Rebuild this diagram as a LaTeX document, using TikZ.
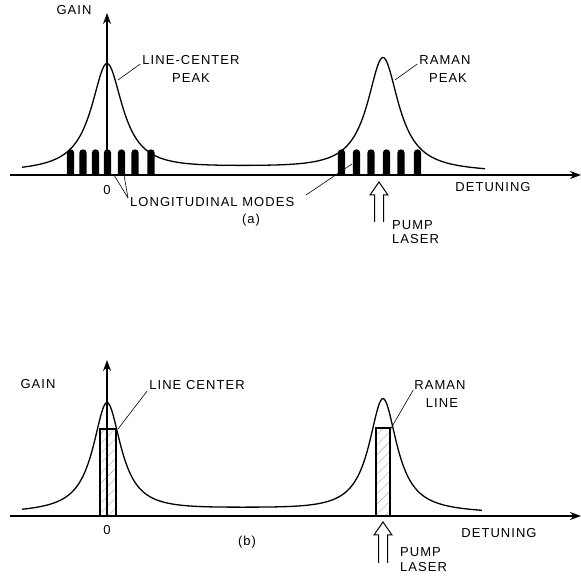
\documentclass[tikz,border=0pt]{standalone}
\usepackage{fontspec}
\setmainfont{Liberation Sans}[LetterSpace=8]
\usetikzlibrary{arrows.meta,patterns.meta}
\begin{document}
\begin{tikzpicture}[x=1pt,y=1pt,
  lbl/.style={inner sep=0pt,font=\fontsize{13}{14}\selectfont},
  axis/.style={line width=1.1pt,-{Stealth[length=11pt,width=8pt]}},
  curve/.style={line width=1.3pt},
  leader/.style={line width=0.6pt},
  pumparrow/.style={line width=1pt},
  hatchbar/.style={line width=1.1pt,pattern={Lines[angle=45,distance=7pt,line width=0.4pt]},pattern color=gray!70}]
\useasboundingbox (0,0) rectangle (581,584);

% ================= panel (a) =================
\coordinate (aL) at (10,409);
\coordinate (aR) at (581,409);
\coordinate (aB) at (107,409);
\coordinate (aT) at (107,571);
% longitudinal modes
\foreach \x in {70.5,83,95.5,107.5,121.5,135,151,341.5,356.5,371,386.5,401,417.5}
  \fill (\x-3.7,409) -- (\x-3.7,431) arc[start angle=180,end angle=0,radius=3.7] -- (\x+3.7,409) -- cycle;
% gain curve
\draw[curve] plot[domain=22:485,samples=300,smooth]
  (\x,{409+1.5+4/(1+((\x-245)/110)^2)+108/(1+((\x-107)/19)^2)+114/(1+((\x-383)/19)^2)});
\draw[axis] (aL) -- (aR);
\draw[axis] (aB) -- (aT);
% labels
\node[lbl] (gainA) at (74,574) {GAIN};
\node[lbl] (lcA) at (191,524) {LINE-CENTER};
\node[lbl] (lcB) at (191,506) {PEAK};
\node[lbl] (rpA) at (445,524) {RAMAN};
\node[lbl] (rpB) at (448,506) {PEAK};
\node[lbl] (zeroA) at (107,394) {0};
\node[lbl,anchor=west] (lm) at (130,382) {LONGITUDINAL MODES};
\node[lbl] (capA) at (251,364) {(a)};
\node[lbl] (detA) at (493,397) {DETUNING};
\node[lbl,anchor=west] (pumpA) at (392,359) {PUMP};
\node[lbl,anchor=west] (laserA) at (392,345) {LASER};
% leaders
\coordinate (lcE) at (118,504);
\coordinate (rpE) at (395,504);
\coordinate (lmS) at (128,386);
\coordinate (lm1) at (114,409);
\coordinate (lm2) at (124,409);
\coordinate (lmR) at (306,389);
\coordinate (lm3) at (352,420);
\draw[leader] (lcA.west) ++(-2,-4) -- (lcE);
\draw[leader] (rpA.west) ++(-2,-4) -- (rpE);
\draw[leader] (lmS) -- (lm1);
\draw[leader] (lmS) -- (lm2);
\draw[leader] (lmR) -- (lm3);
% pump arrow
\draw[pumparrow] (374.5,362) -- (374.5,389) -- (370,389) -- (379,402) -- (388,389) -- (383.5,389) -- (383.5,362);

% ================= panel (b) =================
\coordinate (bL) at (10,68);
\coordinate (bR) at (581,68);
\coordinate (bB) at (107,68);
\coordinate (bT) at (107,224);
\draw[hatchbar] (100,68) rectangle (116,155);
\draw[hatchbar] (376,68) rectangle (390,156);
\draw[curve] plot[domain=22:482,samples=300,smooth]
  (\x,{68+1.5+4/(1+((\x-245)/110)^2)+110/(1+((\x-107)/17)^2)+114/(1+((\x-383)/17)^2)});
\draw[axis] (bL) -- (bR);
\draw[axis] (bB) -- (bT);
\node[lbl] (gainB) at (38,200) {GAIN};
\node[lbl] (lcC) at (197,199) {LINE CENTER};
\node[lbl] (rlA) at (440,199) {RAMAN};
\node[lbl] (rlB) at (442,181) {LINE};
\node[lbl] (zeroB) at (107,54) {0};
\node[lbl] (capB) at (247,42) {(b)};
\node[lbl] (detB) at (499,51) {DETUNING};
\node[lbl,anchor=west] (pumpB) at (400,32) {PUMP};
\node[lbl,anchor=west] (laserB) at (400,17) {LASER};
\coordinate (lcF) at (118,155);
\coordinate (rlE) at (390,154);
\draw[leader] (lcC.west) ++(-2,-6) -- (lcF);
\draw[leader] (rlA.west) ++(-1,-5) -- (rlE);
\draw[pumparrow] (378.5,21) -- (378.5,49) -- (374,49) -- (383,62) -- (392,49) -- (387.5,49) -- (387.5,21);
\end{tikzpicture}
\end{document}
